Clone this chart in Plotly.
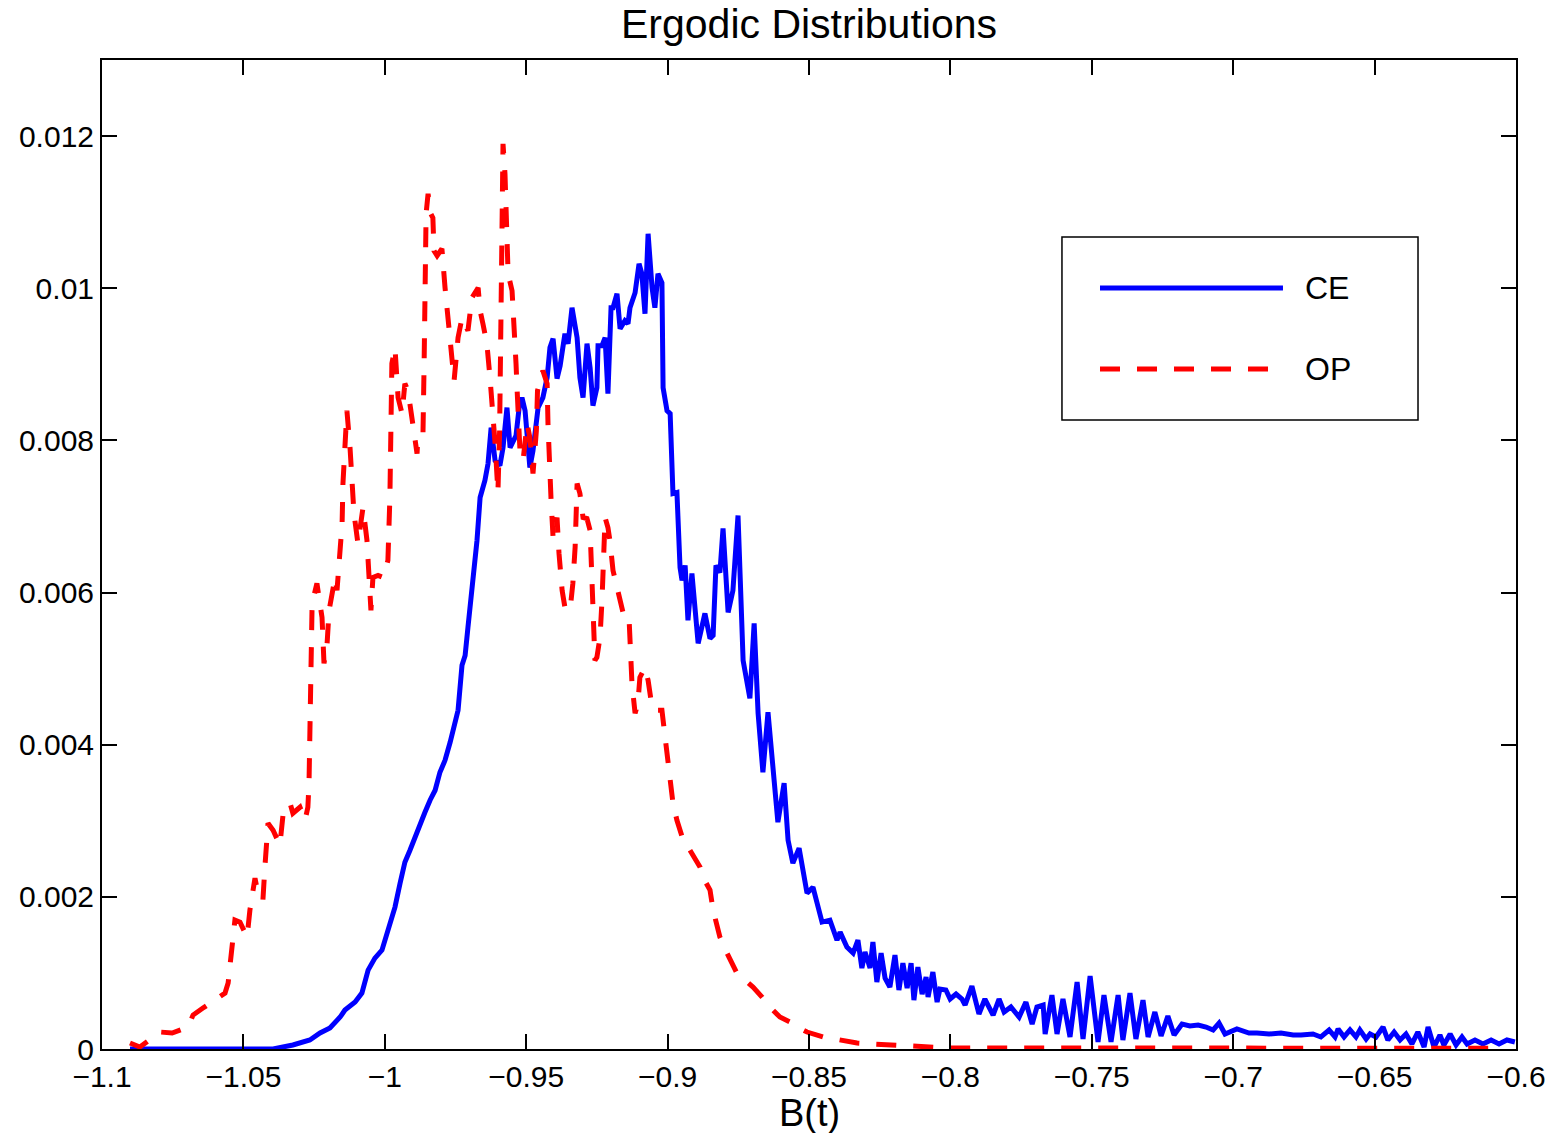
import plotly.graph_objects as go

# ---------------- data ----------------
ce_x = [
    -1.0901, -1.0653, -1.0395, -1.0325, -1.0265, -1.0229, -1.0194, -1.0158, -1.0141, -1.0105,
    -1.0081, -1.0059, -1.0035, -1.0010, -0.9989, -0.9964, -0.9946, -0.9929, -0.9911, -0.9893,
    -0.9876, -0.9858, -0.9840, -0.9822, -0.9805, -0.9787, -0.9769, -0.9752, -0.9741, -0.9727,
    -0.9716, -0.9706, -0.9688, -0.9674, -0.9663, -0.9646, -0.9635, -0.9624, -0.9610, -0.9593,
    -0.9582, -0.9568, -0.9557, -0.9536, -0.9525, -0.9515, -0.9504, -0.9487, -0.9476, -0.9458,
    -0.9441, -0.9426, -0.9416, -0.9405, -0.9391, -0.9380, -0.9363, -0.9352, -0.9338, -0.9320,
    -0.9310, -0.9299, -0.9285, -0.9274, -0.9264, -0.9250, -0.9246, -0.9232, -0.9221, -0.9211,
    -0.9200, -0.9193, -0.9179, -0.9168, -0.9151, -0.9140, -0.9133, -0.9115, -0.9101, -0.9091,
    -0.9080, -0.9069, -0.9055, -0.9045, -0.9034, -0.9020, -0.9016, -0.9002, -0.8991, -0.8981,
    -0.8967, -0.8956, -0.8949, -0.8938, -0.8928, -0.8914, -0.8892, -0.8868, -0.8850, -0.8839,
    -0.8829, -0.8815, -0.8804, -0.8786, -0.8769, -0.8751, -0.8733, -0.8719, -0.8709, -0.8694,
    -0.8680, -0.8663, -0.8645, -0.8610, -0.8588, -0.8574, -0.8557, -0.8535, -0.8514, -0.8507,
    -0.8486, -0.8454, -0.8426, -0.8401, -0.8390, -0.8366, -0.8344, -0.8327, -0.8313, -0.8302,
    -0.8284, -0.8274, -0.8260, -0.8245, -0.8231, -0.8214, -0.8196, -0.8182, -0.8168, -0.8153,
    -0.8139, -0.8129, -0.8115, -0.8100, -0.8086, -0.8079, -0.8062, -0.8047, -0.8037, -0.8016,
    -0.8001, -0.7980, -0.7959, -0.7948, -0.7924, -0.7899, -0.7878, -0.7849, -0.7828, -0.7810,
    -0.7786, -0.7757, -0.7733, -0.7711, -0.7694, -0.7672, -0.7665, -0.7641, -0.7623, -0.7602,
    -0.7577, -0.7552, -0.7531, -0.7506, -0.7478, -0.7457, -0.7432, -0.7407, -0.7390, -0.7365,
    -0.7344, -0.7319, -0.7301, -0.7277, -0.7255, -0.7231, -0.7209, -0.7181, -0.7153, -0.7124,
    -0.7096, -0.7071, -0.7050, -0.7029, -0.6987, -0.6944, -0.6916, -0.6873, -0.6831, -0.6788,
    -0.6760, -0.6718, -0.6690, -0.6661, -0.6640, -0.6629, -0.6608, -0.6587, -0.6566, -0.6552,
    -0.6530, -0.6516, -0.6495, -0.6470, -0.6453, -0.6431, -0.6410, -0.6389, -0.6368, -0.6347,
    -0.6325, -0.6311, -0.6290, -0.6269, -0.6255, -0.6233, -0.6212, -0.6191, -0.6173, -0.6145,
    -0.6117, -0.6088, -0.6060, -0.6032, -0.6004,
]
ce_y = [
    0.0, 0.0, 0.0, 0.0000525, 0.000118, 0.000210, 0.000276, 0.000420, 0.000512, 0.000617,
    0.000735, 0.001037, 0.001195, 0.001300, 0.001563, 0.001865, 0.002180, 0.002456, 0.002613, 0.002797,
    0.002942, 0.003112, 0.003270, 0.003401, 0.003638, 0.003795, 0.004032, 0.004255, 0.004452, 0.005043,
    0.005174, 0.005542, 0.006198, 0.006684, 0.007249, 0.007472, 0.007695, 0.008168, 0.007735, 0.007669,
    0.007905, 0.008431, 0.007905, 0.008063, 0.008431, 0.008562, 0.008391, 0.007643, 0.007866, 0.008431,
    0.008562, 0.008825, 0.009219, 0.009337, 0.008812, 0.008982, 0.009403, 0.009271, 0.009744, 0.009350,
    0.008825, 0.008562, 0.009271, 0.008956, 0.008457, 0.008693, 0.009245, 0.009245, 0.009350, 0.008615,
    0.009744, 0.009744, 0.009928, 0.009468, 0.009573, 0.009534, 0.009744, 0.009941, 0.010322, 0.010190,
    0.009665, 0.010716, 0.010007, 0.009744, 0.010190, 0.010072, 0.008693, 0.008391, 0.008352, 0.007301,
    0.007315, 0.006330, 0.006159, 0.006356, 0.005634, 0.006251, 0.005332, 0.005726, 0.005397, 0.005437,
    0.006356, 0.006264, 0.006842, 0.005739, 0.006028, 0.007013, 0.005108, 0.004806, 0.004609, 0.005594,
    0.004412, 0.003638, 0.004426, 0.002981, 0.003493, 0.002745, 0.002443, 0.002640, 0.002154, 0.002049,
    0.002127, 0.001668, 0.001694, 0.001431, 0.001536, 0.001339, 0.001261, 0.001431, 0.001064, 0.001274,
    0.001064, 0.001405, 0.000880, 0.001261, 0.000932, 0.000814, 0.001234, 0.000775, 0.001129, 0.000801,
    0.001129, 0.000643, 0.001077, 0.000722, 0.000946, 0.000683, 0.001011, 0.000617, 0.000788, 0.000775,
    0.000657, 0.000722, 0.000657, 0.000578, 0.000827, 0.000460, 0.000657, 0.000446, 0.000657, 0.000486,
    0.000552, 0.000420, 0.000617, 0.000328, 0.000552, 0.000578, 0.000197, 0.000709, 0.000197, 0.000657,
    0.000158, 0.000880, 0.000131, 0.000959, 0.000092, 0.000709, 0.000092, 0.000709, 0.000118, 0.000735,
    0.000131, 0.000643, 0.000158, 0.000486, 0.000171, 0.000433, 0.000184, 0.000328, 0.000302, 0.000315,
    0.000289, 0.000250, 0.000341, 0.000197, 0.000263, 0.000210, 0.000210, 0.000197, 0.000210, 0.000184,
    0.000184, 0.000197, 0.000158, 0.000250, 0.000158, 0.000263, 0.000158, 0.000250, 0.000158, 0.000250,
    0.000131, 0.000197, 0.000158, 0.000289, 0.000118, 0.000223, 0.000118, 0.000197, 0.000066, 0.000223,
    0.000026, 0.000289, 0.000026, 0.000184, 0.000053, 0.000197, 0.000053, 0.000158, 0.000066, 0.000118,
    0.000066, 0.000118, 0.000066, 0.000118, 0.000092,
]

op_x = [
    -1.0901, -1.0866, -1.0795, -1.0752, -1.0696, -1.0678, -1.0643, -1.0611, -1.0565, -1.0554,
    -1.0540, -1.0530, -1.0512, -1.0487, -1.0477, -1.0459, -1.0452, -1.0431, -1.0424, -1.0413,
    -1.0395, -1.0371, -1.0360, -1.0335, -1.0325, -1.0300, -1.0282, -1.0272, -1.0268, -1.0265,
    -1.0261, -1.0257, -1.0240, -1.0229, -1.0222, -1.0215, -1.0204, -1.0197, -1.0187, -1.0176,
    -1.0169, -1.0158, -1.0151, -1.0148, -1.0141, -1.0134, -1.0123, -1.0116, -1.0109, -1.0095,
    -1.0077, -1.0063, -1.0056, -1.0049, -1.0042, -1.0024, -1.0006, -0.9989, -0.9982, -0.9978,
    -0.9975, -0.9964, -0.9957, -0.9953, -0.9939, -0.9929, -0.9918, -0.9904, -0.9886, -0.9883,
    -0.9865, -0.9861, -0.9858, -0.9854, -0.9847, -0.9837, -0.9830, -0.9826, -0.9815, -0.9798,
    -0.9787, -0.9776, -0.9762, -0.9755, -0.9741, -0.9727, -0.9706, -0.9692, -0.9670, -0.9663,
    -0.9653, -0.9639, -0.9628, -0.9617, -0.9610, -0.9603, -0.9600, -0.9594, -0.9591, -0.9589,
    -0.9586, -0.9582, -0.9575, -0.9568, -0.9564, -0.9550, -0.9540, -0.9536, -0.9532, -0.9529,
    -0.9522, -0.9511, -0.9497, -0.9487, -0.9476, -0.9464, -0.9460, -0.9441, -0.9426, -0.9423,
    -0.9419, -0.9412, -0.9405, -0.9391, -0.9384, -0.9373, -0.9363, -0.9345, -0.9335, -0.9327,
    -0.9320, -0.9310, -0.9299, -0.9285, -0.9274, -0.9271, -0.9266, -0.9262, -0.9257, -0.9250,
    -0.9239, -0.9232, -0.9228, -0.9221, -0.9211, -0.9204, -0.9193, -0.9186, -0.9168, -0.9151,
    -0.9136, -0.9133, -0.9126, -0.9115, -0.9105, -0.9098, -0.9080, -0.9069, -0.9055, -0.9045,
    -0.9020, -0.9013, -0.9002, -0.8991, -0.8981, -0.8967, -0.8945, -0.8921, -0.8885, -0.8875,
    -0.8850, -0.8839, -0.8815, -0.8790, -0.8755, -0.8726, -0.8698, -0.8666, -0.8638, -0.8603,
    -0.8567, -0.8542, -0.8507, -0.8450, -0.8390, -0.8330, -0.8274, -0.8203, -0.8118, -0.8001,
    -0.7800, -0.7500, -0.7000, -0.6500, -0.6050,
]
op_y = [
    0.000079, 0.000026, 0.000223, 0.000210, 0.000289, 0.000446, 0.000538, 0.000617, 0.000735, 0.000867,
    0.001300, 0.001694, 0.001668, 0.001471, 0.001825, 0.002246, 0.002114, 0.001957, 0.002390, 0.002968,
    0.002876, 0.002679, 0.003073, 0.003231, 0.003099, 0.003178, 0.003007, 0.003178, 0.003493, 0.004360,
    0.005240, 0.005857, 0.006120, 0.005896, 0.005673, 0.005069, 0.005332, 0.005765, 0.005988, 0.006198,
    0.006028, 0.006461, 0.006907, 0.007433, 0.008129, 0.008391, 0.007905, 0.007472, 0.007039, 0.006645,
    0.007118, 0.006684, 0.006159, 0.005765, 0.006198, 0.006225, 0.006198, 0.006422, 0.007249, 0.008129,
    0.009009, 0.009219, 0.008785, 0.008562, 0.008352, 0.008746, 0.008654, 0.008260, 0.007827, 0.008037,
    0.008089, 0.009009, 0.010099, 0.010978, 0.011241, 0.010978, 0.010926, 0.010493, 0.010427, 0.010519,
    0.010007, 0.009573, 0.009087, 0.008785, 0.009350, 0.009613, 0.009442, 0.009875, 0.010007, 0.009705,
    0.009534, 0.009271, 0.008825, 0.008391, 0.007958, 0.007512, 0.007315, 0.008129, 0.009009, 0.009875,
    0.010755, 0.011898, 0.011504, 0.010624, 0.010190, 0.009967, 0.009442, 0.009009, 0.008654, 0.008299,
    0.007866, 0.007735, 0.008221, 0.008037, 0.007564, 0.008129, 0.008654, 0.008917, 0.008746, 0.008221,
    0.007695, 0.007210, 0.006724, 0.006986, 0.006514, 0.006028, 0.005804, 0.005765, 0.006120, 0.006592,
    0.007433, 0.007301, 0.006986, 0.006973, 0.006815, 0.006461, 0.005988, 0.005542, 0.005108, 0.005148,
    0.005410, 0.005896, 0.006461, 0.006986, 0.006855, 0.006684, 0.006290, 0.006185, 0.005936, 0.005634,
    0.005634, 0.005240, 0.004806, 0.004412, 0.004544, 0.004885, 0.005016, 0.004846, 0.004491, 0.004452,
    0.004452, 0.004229, 0.003835, 0.003493, 0.003231, 0.003007, 0.002745, 0.002613, 0.002390, 0.002259,
    0.002088, 0.001825, 0.001471, 0.001261, 0.000998, 0.000906, 0.000814, 0.000683, 0.000552, 0.000420,
    0.000355, 0.000289, 0.000223, 0.000158, 0.000118, 0.000079, 0.000066, 0.000053, 0.000026, 0.000013,
    0.000013, 0.000010, 0.000010, 0.000010, 0.000010,
]

x_tick_vals = [-1.1, -1.05, -1.0, -0.95, -0.9, -0.85, -0.8, -0.75, -0.7, -0.65, -0.6]
x_tick_text = ["\u22121.1", "\u22121.05", "\u22121", "\u22120.95", "\u22120.9", "\u22120.85",
               "\u22120.8", "\u22120.75", "\u22120.7", "\u22120.65", "\u22120.6"]
y_tick_vals = [0, 0.002, 0.004, 0.006, 0.008, 0.01, 0.012]
y_tick_text = ["0", "0.002", "0.004", "0.006", "0.008", "0.01", "0.012"]

series_names = ["CE", "OP"]
title_text = "Ergodic Distributions"
x_label = "B(t)"

# ---------------- figure ----------------
FONT = "Liberation Sans, Arial, Helvetica, sans-serif"
BLUE = "#0000ff"
RED = "#ff0000"
DASH = "20px,17px"
LW = 5

fig = go.Figure()
fig.add_trace(go.Scatter(x=ce_x, y=ce_y, mode="lines", name=series_names[0],
                         line=dict(color=BLUE, width=LW), showlegend=False))
fig.add_trace(go.Scatter(x=op_x, y=op_y, mode="lines", name=series_names[1],
                         line=dict(color=RED, width=LW, dash=DASH), showlegend=False))

axis_common = dict(
    showline=True, linecolor="black", linewidth=2, mirror="ticks",
    ticks="inside", ticklen=15, tickwidth=1.5, tickcolor="black",
    showgrid=False, zeroline=False, ticklabeloverflow="allow", automargin=False,
    tickfont=dict(family=FONT, size=30, color="black"),
)

fig.update_layout(
    width=1545, height=1133, autosize=False,
    margin=dict(l=102, r=29, t=60, b=84),
    paper_bgcolor="white", plot_bgcolor="white",
    font=dict(family=FONT, color="black"),
    title=dict(text=title_text, x=0.5, xref="paper", xanchor="center",
               y=1 - 24 / 1133, yref="container", yanchor="middle",
               font=dict(family=FONT, size=41, color="black")),
    xaxis=dict(range=[-1.1, -0.6], tickvals=x_tick_vals, ticktext=x_tick_text, **axis_common),
    yaxis=dict(range=[0, 0.013], tickvals=y_tick_vals, ticktext=y_tick_text, **axis_common),
    showlegend=False,
)

# x-axis label placed like MATLAB's xlabel
fig.add_annotation(x=0.5, y=-0.0652, xref="paper", yref="paper", text=x_label, showarrow=False,
                   xanchor="center", yanchor="middle",
                   font=dict(family=FONT, size=38, color="black"))

# ---------------- legend box (MATLAB style, long line samples) ----------------
lx0, lx1, ly0, ly1 = 0.6789, 0.9307, 0.6360, 0.8210
sx0, sx1, tx = 0.7058, 0.8352, 0.8494
rows = [(0.7695, BLUE, "solid", series_names[0]), (0.6876, RED, DASH, series_names[1])]

fig.add_shape(type="rect", xref="paper", yref="paper", x0=lx0, x1=lx1, y0=ly0, y1=ly1,
              line=dict(color="black", width=1.5), fillcolor="white", layer="above")
for ry, col, dsh, label in rows:
    fig.add_shape(type="line", xref="paper", yref="paper", x0=sx0, x1=sx1, y0=ry, y1=ry,
                  line=dict(color=col, width=LW, dash=dsh), layer="above")
    fig.add_annotation(x=tx, y=ry, xref="paper", yref="paper", text=label, showarrow=False,
                       xanchor="left", yanchor="middle",
                       font=dict(family=FONT, size=32, color="black"))

# remove the browser's default body margin and scrollbars so the figure sits at the page origin
fig.write_html(
    "out.html",
    config={"displayModeBar": False, "responsive": False},
    post_script="document.body.style.margin='0px';document.body.style.overflow='hidden';"
                "document.documentElement.style.overflow='hidden';",
)
